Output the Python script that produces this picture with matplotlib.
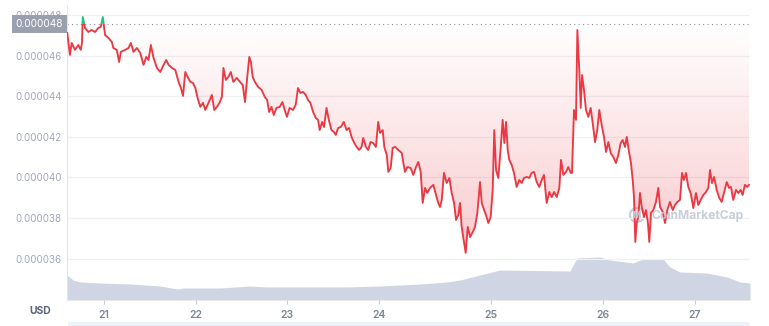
import numpy as np
import matplotlib
matplotlib.use("Agg")
import matplotlib.pyplot as plt
import matplotlib.transforms as mtransforms
from matplotlib.patches import Rectangle, Ellipse
from matplotlib.path import Path

plt.rcParams["font.family"] = ["Inter", "DejaVu Sans"]

# price, in units of 1e-6 USD, by day of month
price_days = [
    20.600, 20.629, 20.648, 20.684, 20.720, 20.746, 20.760, 20.768, 20.793, 20.829,
    20.866, 20.902, 20.938, 20.964, 20.986, 21.011, 21.047, 21.084, 21.101, 21.138,
    21.164, 21.182, 21.229, 21.265, 21.291, 21.320, 21.357, 21.393, 21.429, 21.458,
    21.483, 21.509, 21.538, 21.575, 21.611, 21.647, 21.676, 21.701, 21.738, 21.774,
    21.810, 21.836, 21.858, 21.883, 21.908, 21.938, 21.967, 21.992, 22.017, 22.047,
    22.076, 22.101, 22.137, 22.174, 22.200, 22.229, 22.257, 22.284, 22.301, 22.327,
    22.356, 22.382, 22.410, 22.447, 22.483, 22.513, 22.538, 22.563, 22.585, 22.603,
    22.622, 22.647, 22.683, 22.720, 22.756, 22.781, 22.803, 22.829, 22.854, 22.883,
    22.919, 22.949, 22.974, 22.999, 23.028, 23.064, 23.094, 23.119, 23.145, 23.174,
    23.203, 23.228, 23.254, 23.283, 23.312, 23.337, 23.355, 23.381, 23.402, 23.429,
    23.454, 23.483, 23.508, 23.530, 23.555, 23.585, 23.617, 23.647, 23.675, 23.701,
    23.726, 23.756, 23.784, 23.810, 23.828, 23.857, 23.882, 23.908, 23.937, 23.966,
    23.991, 24.009, 24.033, 24.047, 24.069, 24.083, 24.104, 24.122, 24.143, 24.172,
    24.203, 24.217, 24.232, 24.253, 24.283, 24.306, 24.330, 24.351, 24.372, 24.390,
    24.411, 24.431, 24.455, 24.485, 24.509, 24.529, 24.545, 24.560, 24.580, 24.604,
    24.628, 24.649, 24.670, 24.688, 24.708, 24.723, 24.738, 24.753, 24.774, 24.792,
    24.813, 24.837, 24.857, 24.878, 24.902, 24.917, 24.938, 24.955, 24.976, 24.997,
    25.015, 25.029, 25.045, 25.065, 25.087, 25.104, 25.119, 25.134, 25.149, 25.163,
    25.185, 25.205, 25.229, 25.253, 25.274, 25.295, 25.319, 25.342, 25.363, 25.384,
    25.408, 25.431, 25.453, 25.473, 25.497, 25.521, 25.542, 25.563, 25.587, 25.610,
    25.625, 25.646, 25.670, 25.690, 25.712, 25.723, 25.741, 25.759, 25.771, 25.788,
    25.801, 25.813, 25.830, 25.848, 25.869, 25.890, 25.908, 25.929, 25.949, 25.967,
    25.988, 26.011, 26.033, 26.058, 26.084, 26.112, 26.141, 26.166, 26.192, 26.214,
    26.239, 26.258, 26.283, 26.304, 26.323, 26.337, 26.351, 26.366, 26.384, 26.402,
    26.421, 26.446, 26.467, 26.489, 26.503, 26.522, 26.547, 26.576, 26.601, 26.620,
    26.649, 26.674, 26.699, 26.728, 26.758, 26.783, 26.808, 26.837, 26.859, 26.880,
    26.902, 26.927, 26.953, 26.982, 27.011, 27.036, 27.062, 27.090, 27.120, 27.145,
    27.163, 27.185, 27.207, 27.236, 27.264, 27.290, 27.315, 27.345, 27.370, 27.391,
    27.416, 27.446, 27.471, 27.497, 27.518, 27.543, 27.568, 27.587,
]
price_e6 = [
    47.11, 46.03, 46.62, 46.28, 46.52, 46.28, 46.62, 47.90, 47.36, 47.16,
    47.26, 47.16, 47.36, 47.41, 47.90, 47.01, 46.87, 46.67, 46.37, 46.28,
    45.68, 46.18, 46.28, 46.37, 46.62, 46.18, 46.37, 46.13, 45.54, 45.93,
    45.78, 46.52, 45.88, 45.39, 45.19, 45.54, 45.78, 45.54, 45.39, 45.29,
    44.70, 44.40, 44.01, 45.19, 44.95, 44.70, 44.65, 44.40, 43.91, 43.47,
    43.67, 43.32, 43.67, 44.06, 43.32, 43.47, 43.67, 43.96, 45.39, 44.80,
    44.95, 45.19, 44.70, 44.90, 44.70, 44.55, 43.71, 44.95, 45.93, 45.68,
    44.95, 44.70, 44.45, 44.31, 43.96, 43.81, 43.22, 43.47, 43.07, 43.42,
    43.47, 43.71, 43.32, 42.98, 43.42, 43.32, 43.57, 44.40, 44.16, 44.21,
    44.06, 43.81, 43.67, 43.22, 42.93, 42.83, 42.33, 42.73, 42.48, 43.42,
    42.83, 42.33, 42.24, 42.09, 42.43, 42.48, 42.73, 42.33, 42.43, 41.99,
    41.74, 41.50, 41.35, 41.50, 41.94, 41.50, 41.35, 41.74, 41.69, 41.50,
    42.73, 42.19, 42.33, 41.50, 41.10, 40.27, 40.46, 41.45, 41.50, 41.35,
    41.20, 40.71, 40.27, 40.51, 40.46, 40.12, 40.51, 40.76, 40.27, 38.74,
    39.48, 39.23, 39.48, 39.63, 39.13, 38.74, 38.54, 38.89, 40.22, 39.72,
    39.97, 39.23, 38.74, 37.90, 38.15, 38.74, 37.56, 37.01, 36.28, 37.56,
    37.06, 37.31, 37.56, 38.25, 39.77, 38.74, 38.39, 38.15, 37.75, 38.05,
    39.38, 42.33, 40.36, 39.97, 41.50, 42.83, 41.69, 42.73, 41.35, 40.86,
    40.61, 40.22, 39.53, 39.87, 39.72, 39.97, 40.02, 39.97, 40.22, 40.27,
    39.77, 39.53, 39.87, 40.12, 38.74, 39.28, 39.03, 39.28, 39.03, 39.48,
    40.86, 40.12, 40.27, 40.51, 40.22, 40.22, 43.32, 42.83, 47.26, 45.29,
    43.42, 45.04, 44.31, 43.32, 42.98, 43.42, 42.68, 41.74, 42.33, 43.32,
    42.58, 41.99, 41.25, 41.74, 41.20, 41.00, 40.71, 41.10, 41.69, 41.84,
    41.50, 41.99, 41.25, 40.71, 39.87, 39.03, 36.82, 37.75, 38.05, 39.23,
    38.54, 38.05, 38.39, 37.75, 36.82, 38.25, 38.39, 38.79, 39.48, 38.54,
    38.30, 37.75, 38.39, 38.79, 38.39, 38.64, 38.79, 38.89, 40.22, 39.87,
    40.22, 39.53, 39.23, 38.49, 39.23, 38.64, 38.89, 39.13, 39.28, 39.48,
    40.36, 39.72, 40.02, 39.38, 38.99, 38.79, 39.23, 39.77, 39.48, 39.53,
    38.89, 39.38, 39.23, 39.38, 39.13, 39.63, 39.53, 39.63,
]
open_price_e6 = 47.56

# trading volume (relative units, no axis shown)
vol_days = [
    20.600, 20.662, 20.738, 20.956, 21.284, 21.611, 21.796, 21.862, 22.265, 22.592,
    22.778, 23.029, 23.650, 24.009, 24.366, 24.607, 24.723, 24.902, 25.080, 25.705,
    25.768, 25.973, 26.076, 26.326, 26.435, 26.652, 26.728, 26.837, 27.130, 27.348,
    27.489, 27.598,
]
vol_level = [
    25, 20, 18, 17, 16, 14, 11, 12, 12, 14,
    13, 13, 13, 14, 16, 18, 20, 25, 30, 29,
    42, 43, 40, 37, 41, 41, 33, 28, 27, 23,
    18, 17,
]

day_ticks = [21, 22, 23, 24, 25, 26, 27]
price_ticks_e6 = [36, 38, 40, 42, 44, 46, 48]

# uneven spacing of the day ticks in the source chart
slot_days = [20, 21, 22, 23, 24, 25, 26, 27, 28]
slot_pos = [12, 104, 196, 287, 379, 491, 603, 695, 787]

RED = "#ea3943"
GREEN = "#16c784"
TXT = "#a1a7bb"


def fwd(d):
    return np.interp(d, slot_days, slot_pos)


def inv(p):
    return np.interp(p, slot_pos, slot_days)


fig = plt.figure(figsize=(7.69, 3.26), dpi=100)
ax = fig.add_axes([67 / 769, 26 / 326, 683 / 769, 295 / 326])
ax.set_xscale("function", functions=(fwd, inv))

x = np.array(price_days)
y = np.array(price_e6)
ymin, ymax = 33.96, 48.49

# volume underneath
vax = ax.twinx()
vax.fill_between(vol_days, vol_level, 0, color="#cfd5e3", lw=0)
vax.set_ylim(0, 295)
vax.axis("off")
ax.set_zorder(2)
vax.set_zorder(1)
ax.patch.set_visible(False)

# gradient fill between price and opening price
poly = ax.fill_between(x, y, open_price_e6, facecolor="none", edgecolor="none")
clip = Path.make_compound_path(*poly.get_paths())
grad = np.zeros((256, 1, 4))
grad[..., :3] = matplotlib.colors.to_rgb(RED)
grad[:, 0, 3] = np.linspace(0.0, 0.32, 256)
top_frac = (open_price_e6 - ymin) / (ymax - ymin)
im = ax.imshow(grad, extent=[0, 1, 0, top_frac], transform=ax.transAxes,
               aspect="auto", origin="upper", zorder=1, interpolation="bilinear")
im.set_clip_path(clip, ax.transData)
ax.fill_between(x, y, open_price_e6, where=y > open_price_e6, interpolate=True,
                color=GREEN, alpha=0.15, lw=0, zorder=1)

# price line, red below the opening price and green above it
blend = mtransforms.blended_transform_factory(ax.transAxes, ax.transData)
red_line, = ax.plot(x, y, color=RED, lw=1.35, zorder=3)
red_line.set_clip_path(Rectangle((0, ymin), 1, open_price_e6 - ymin, transform=blend))
green_line, = ax.plot(x, y, color=GREEN, lw=1.35, zorder=3)
green_line.set_clip_path(Rectangle((0, open_price_e6), 1, 5, transform=blend))

ax.axhline(open_price_e6, color="#8a90a0", lw=0.8, ls=(0, (1, 3)), zorder=2)
shift = mtransforms.ScaledTranslation(-4 / 100, 0, fig.dpi_scale_trans)
ax.text(0, open_price_e6, "0.000048", transform=blend + shift, ha="right", va="center",
        fontsize=7.2, color="white", zorder=5, clip_on=False,
        bbox=dict(boxstyle="square,pad=0.4", fc="#9aa0ae", ec="none"))

ax.set_xlim(20.597, 27.598)
ax.set_ylim(ymin, ymax)
ax.set_yticks(price_ticks_e6)
ax.set_yticklabels([f"0.0000{v:02d}" for v in price_ticks_e6])
ax.set_xticks(day_ticks)
ax.set_xticklabels([str(d) for d in day_ticks])
ax.tick_params(axis="y", length=0, pad=4, labelsize=7, labelcolor=TXT)
ax.tick_params(axis="x", length=3, width=0.8, color="#c8cdd8", pad=4,
               labelsize=7.5, labelcolor="#7d8698")
for lab in ax.get_xticklabels():
    lab.set_fontweight("semibold")
ax.grid(axis="y", color="#eef0f4", lw=0.9)
ax.set_axisbelow(True)
for side in ["top", "right", "bottom"]:
    ax.spines[side].set_visible(False)
ax.spines["left"].set_color("#e3e6ec")
ax.spines["left"].set_linewidth(0.8)

fig.text(40 / 769, 1 - 311 / 326, "USD", ha="center", va="center",
         fontsize=7.5, fontweight="bold", color="#58667e")

# watermark
fig.patches.append(Ellipse((637 / 769, 1 - 215 / 326), 14 / 769, 14 / 326,
                           transform=fig.transFigure, fc="none", ec="#c3c8d4", lw=1.6, alpha=0.9))
fig.text(637 / 769, 1 - 216 / 326, "M", ha="center", va="center", fontsize=6.5,
         fontweight="bold", color="#c3c8d4")
fig.text(651 / 769, 1 - 216 / 326, "CoinMarketCap", ha="left", va="center",
         fontsize=8.7, fontweight="bold", color="#c3c8d4", alpha=0.9)

# navigator strip at the bottom
fig.patches.append(Rectangle((68 / 769, 0), 682 / 769, 4 / 326, transform=fig.transFigure,
                             fc="#eef2fb", ec="none"))

fig.savefig("out.png", dpi=100)
